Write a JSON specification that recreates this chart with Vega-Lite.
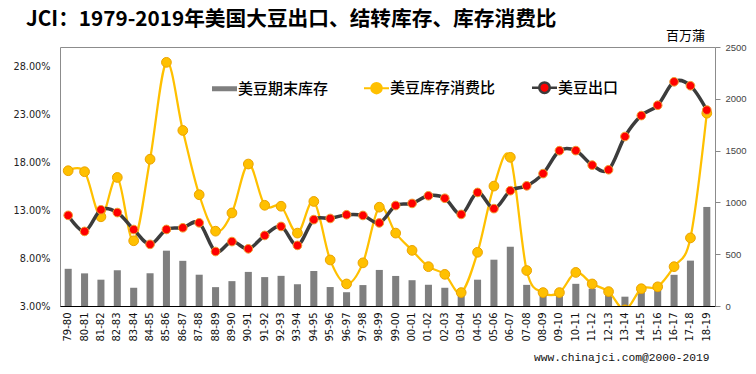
{
  "$schema": "https://vega.github.io/schema/vega-lite/v6.json",
  "width": 655,
  "height": 259,
  "autosize": {"type": "none"},
  "padding": {"left": 60, "top": 47, "right": 41, "bottom": 68},
  "background": "white",
  "config": {
    "view": {"stroke": "#8c8c8c", "strokeWidth": 1},
    "axis": {"grid": false, "labelFont": "DejaVu Sans", "labelColor": "#222"}
  },
  "title": {
    "text": "JCI：1979-2019年美国大豆出口、结转库存、库存消费比",
    "anchor": "start",
    "frame": "group",
    "dx": -34,
    "offset": 0,
    "dy": 2,
    "font": "Noto Sans CJK SC",
    "fontSize": 20.7,
    "fontWeight": "bold",
    "color": "#000"
  },
  "data": {
    "values": [
      {"yr": "79-80", "stock": 359, "ratio": 0.171, "exports": 875},
      {"yr": "80-81", "stock": 315, "ratio": 0.170, "exports": 720},
      {"yr": "81-82", "stock": 254, "ratio": 0.123, "exports": 929},
      {"yr": "82-83", "stock": 345, "ratio": 0.164, "exports": 902},
      {"yr": "83-84", "stock": 176, "ratio": 0.098, "exports": 738},
      {"yr": "84-85", "stock": 316, "ratio": 0.183, "exports": 595},
      {"yr": "85-86", "stock": 534, "ratio": 0.284, "exports": 739},
      {"yr": "86-87", "stock": 436, "ratio": 0.213, "exports": 755},
      {"yr": "87-88", "stock": 302, "ratio": 0.146, "exports": 803},
      {"yr": "88-89", "stock": 182, "ratio": 0.108, "exports": 526},
      {"yr": "89-90", "stock": 240, "ratio": 0.127, "exports": 622},
      {"yr": "90-91", "stock": 329, "ratio": 0.178, "exports": 552},
      {"yr": "91-92", "stock": 279, "ratio": 0.135, "exports": 681},
      {"yr": "92-93", "stock": 291, "ratio": 0.134, "exports": 768},
      {"yr": "93-94", "stock": 210, "ratio": 0.106, "exports": 585},
      {"yr": "94-95", "stock": 337, "ratio": 0.139, "exports": 834},
      {"yr": "95-96", "stock": 183, "ratio": 0.078, "exports": 845},
      {"yr": "96-97", "stock": 133, "ratio": 0.053, "exports": 881},
      {"yr": "97-98", "stock": 202, "ratio": 0.075, "exports": 874},
      {"yr": "98-99", "stock": 348, "ratio": 0.133, "exports": 802},
      {"yr": "99-00", "stock": 290, "ratio": 0.106, "exports": 970},
      {"yr": "00-01", "stock": 249, "ratio": 0.088, "exports": 990},
      {"yr": "01-02", "stock": 205, "ratio": 0.071, "exports": 1064},
      {"yr": "02-03", "stock": 176, "ratio": 0.063, "exports": 1040},
      {"yr": "03-04", "stock": 112, "ratio": 0.044, "exports": 884},
      {"yr": "04-05", "stock": 254, "ratio": 0.086, "exports": 1096},
      {"yr": "05-06", "stock": 447, "ratio": 0.155, "exports": 940},
      {"yr": "06-07", "stock": 572, "ratio": 0.185, "exports": 1113},
      {"yr": "07-08", "stock": 204, "ratio": 0.067, "exports": 1160},
      {"yr": "08-09", "stock": 138, "ratio": 0.044, "exports": 1278},
      {"yr": "09-10", "stock": 151, "ratio": 0.044, "exports": 1499},
      {"yr": "10-11", "stock": 214, "ratio": 0.065, "exports": 1500},
      {"yr": "11-12", "stock": 167, "ratio": 0.053, "exports": 1360},
      {"yr": "12-13", "stock": 141, "ratio": 0.045, "exports": 1315},
      {"yr": "13-14", "stock": 90, "ratio": 0.026, "exports": 1636},
      {"yr": "14-15", "stock": 191, "ratio": 0.048, "exports": 1838},
      {"yr": "15-16", "stock": 197, "ratio": 0.050, "exports": 1938},
      {"yr": "16-17", "stock": 301, "ratio": 0.071, "exports": 2164},
      {"yr": "17-18", "stock": 438, "ratio": 0.101, "exports": 2126},
      {"yr": "18-19", "stock": 956, "ratio": 0.231, "exports": 1891}
    ]
  },
  "encoding": {
    "x": {
      "field": "yr",
      "type": "ordinal",
      "sort": null,
      "scale": {"paddingInner": 0.57, "paddingOuter": 0.285},
      "axis": {
        "labelAngle": 270,
        "labelFontSize": 10,
        "labelColor": "#111",
        "ticks": false,
        "labelPadding": 6,
        "domainColor": "#000",
        "title": "www.chinajci.com@2000-2019",
        "titleFont": "Liberation Mono",
        "titleFontSize": 11.25,
        "titleFontWeight": "normal",
        "titleColor": "#111",
        "titleAnchor": "end",
        "titleAlign": "right",
        "titleBaseline": "middle",
        "titleX": 649,
        "titleY": 51
      }
    }
  },
  "layer": [
    {
      "mark": {"type": "bar", "color": "#7F7F7F"},
      "encoding": {
        "y": {
          "field": "stock",
          "type": "quantitative",
          "scale": {"domain": [0, 2500], "nice": false},
          "axis": {
            "orient": "right",
            "values": [0, 500, 1000, 1500, 2000, 2500],
            "format": "d",
            "labelFont": "Liberation Sans",
            "labelFontSize": 9.5,
            "labelColor": "#444",
            "labelFlush": false,
            "tickSize": 5,
            "tickColor": "#888",
            "domain": false,
            "labelPadding": 5,
            "title": "百万蒲",
            "titleFont": "Noto Sans CJK SC",
            "titleFontSize": 13,
            "titleFontWeight": "normal",
            "titleColor": "#000",
            "titleAngle": 0,
            "titleAlign": "center",
            "titleBaseline": "middle",
            "titleX": -30,
            "titleY": -12
          }
        },
        "color": {
          "datum": "美豆期末库存",
          "type": "nominal",
          "scale": {
            "domain": ["美豆期末库存", "美豆库存消费比", "美豆出口"],
            "range": ["#7F7F7F", "#FFC000", "#FF0000"]
          },
          "legend": {
            "title": null,
            "orient": "none",
            "direction": "horizontal",
            "legendX": 157,
            "legendY": 33,
            "labelFont": "Noto Sans CJK SC",
            "labelFontSize": 15,
            "labelFontWeight": 500,
            "labelColor": "#000",
            "labelOffset": 6,
            "columnPadding": 31,
            "symbolSize": 625,
            "encode": {
              "symbols": {
                "update": {
                  "shape": {"signal": "datum.value === '美豆期末库存' ? 'M-1,-0.2H1V0.2H-1Z' : 'M-1,0H-0.42M0.42,0H1M-0.42,0A0.42,0.42 0 1,0 0.42,0A0.42,0.42 0 1,0 -0.42,0Z'"},
                  "stroke": {"signal": "datum.value === '美豆期末库存' ? 'transparent' : datum.value === '美豆库存消费比' ? '#FFC000' : '#3C3C3C'"},
                  "strokeWidth": {"signal": "datum.value === '美豆出口' ? 2.5 : 2"},
                  "opacity": {"value": 1}
                }
              }
            }
          }
        }
      }
    },
    {
      "mark": {"type": "line", "interpolate": "cardinal", "strokeWidth": 2.25, "stroke": "#FFC000", "clip": true},
      "encoding": {
        "y": {
          "field": "ratio",
          "type": "quantitative",
          "scale": {"domain": [0.03, 0.30], "nice": false},
          "axis": {
            "orient": "left",
            "values": [0.03, 0.08, 0.13, 0.18, 0.23, 0.28],
            "format": ".2%",
            "labelFontSize": 9.7,
            "labelFlush": false,
            "ticks": false,
            "domain": false,
            "labelPadding": 10,
            "title": null
          }
        }
      }
    },
    {
      "mark": {"type": "point", "filled": true, "stroke": "#EBA300", "strokeWidth": 1, "size": 95, "opacity": 1, "clip": true},
      "encoding": {
        "y": {"field": "ratio", "type": "quantitative", "scale": {"domain": [0.03, 0.30], "nice": false}, "axis": null},
        "color": {"datum": "美豆库存消费比", "type": "nominal"}
      }
    },
    {
      "mark": {"type": "line", "interpolate": "cardinal", "strokeWidth": 3.5, "stroke": "#3C3C3C"},
      "encoding": {
        "y": {"field": "exports", "type": "quantitative", "scale": {"domain": [0, 2500], "nice": false}, "axis": null}
      }
    },
    {
      "mark": {"type": "point", "filled": true, "stroke": "#F0A030", "strokeWidth": 1, "size": 75, "opacity": 1},
      "encoding": {
        "y": {"field": "exports", "type": "quantitative", "scale": {"domain": [0, 2500], "nice": false}, "axis": null},
        "color": {"datum": "美豆出口", "type": "nominal"}
      }
    }
  ],
  "resolve": {"scale": {"y": "independent"}}
}
